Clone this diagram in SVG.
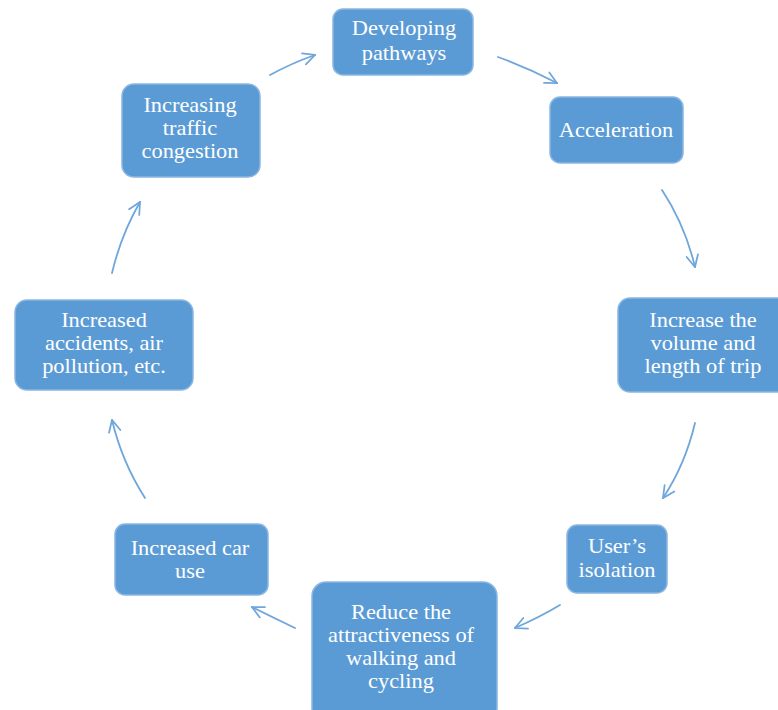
<svg xmlns="http://www.w3.org/2000/svg" width="778" height="710" viewBox="0 0 778 710">
<defs>
<style>
.box{fill:#5B9BD5;stroke:#8AB6E2;stroke-width:1.5}
.t{font-family:"Liberation Serif","DejaVu Serif",serif;font-size:20px;fill:#fff;text-anchor:middle}
.c{fill:none;stroke:#6FA6DB;stroke-width:1.8;stroke-linecap:round}
</style>
<marker id="ah" viewBox="0 0 12 12" refX="11" refY="6" markerWidth="14" markerHeight="14" markerUnits="userSpaceOnUse" orient="auto">
<path d="M1,1 L11,6 L1,11" fill="none" stroke="#6FA6DB" stroke-width="1.5" stroke-linecap="round"/>
</marker>
</defs>
<rect width="778" height="710" fill="#fff"/>
<g id="connectors">
<path class="c" d="M270,75 Q292,63 315,55" marker-end="url(#ah)"/>
<path class="c" d="M498,57 Q528,68 557,83" marker-end="url(#ah)"/>
<path class="c" d="M662,190 Q685,225 695,267" marker-end="url(#ah)"/>
<path class="c" d="M695,423 Q685,465 663,498" marker-end="url(#ah)"/>
<path class="c" d="M560,605 Q540,617 515,628" marker-end="url(#ah)"/>
<path class="c" d="M295,628 Q272,617 252,607" marker-end="url(#ah)"/>
<path class="c" d="M145,498 Q122,462 112,420" marker-end="url(#ah)"/>
<path class="c" d="M112,273 Q121,235 140,202" marker-end="url(#ah)"/>
</g>
<g id="n1"><rect class="box" x="333" y="9" width="140" height="66" rx="10"/>
<g transform="translate(404,0) scale(1.12,1)"><text class="t" x="0" y="35">Developing</text><text class="t" x="0" y="60">pathways</text></g></g>
<g id="n2"><rect class="box" x="550" y="97" width="133" height="66" rx="10"/>
<g transform="translate(616,0) scale(1.12,1)"><text class="t" x="0" y="137">Acceleration</text></g></g>
<g id="n3"><rect class="box" x="618" y="298" width="172" height="94" rx="12"/>
<g transform="translate(703,0) scale(1.12,1)"><text class="t" x="0" y="327">Increase the</text><text class="t" x="0" y="350">volume and</text><text class="t" x="0" y="373">length of trip</text></g></g>
<g id="n4"><rect class="box" x="567" y="525" width="100" height="68" rx="10"/>
<g transform="translate(617,0) scale(1.12,1)"><text class="t" x="0" y="553">User’s</text><text class="t" x="0" y="577">isolation</text></g></g>
<g id="n5"><rect class="box" x="312" y="582" width="185" height="140" rx="14"/>
<g transform="translate(401,0) scale(1.12,1)"><text class="t" x="0" y="619">Reduce the</text><text class="t" x="0" y="642">attractiveness of</text><text class="t" x="0" y="665">walking and</text><text class="t" x="0" y="688">cycling</text></g></g>
<g id="n6"><rect class="box" x="115" y="524" width="153" height="71" rx="10"/>
<g transform="translate(190,0) scale(1.12,1)"><text class="t" x="0" y="555">Increased car</text><text class="t" x="0" y="578">use</text></g></g>
<g id="n7"><rect class="box" x="15" y="300" width="178" height="90" rx="12"/>
<g transform="translate(104,0) scale(1.12,1)"><text class="t" x="0" y="327">Increased</text><text class="t" x="0" y="350">accidents, air</text><text class="t" x="0" y="373">pollution, etc.</text></g></g>
<g id="n8"><rect class="box" x="122" y="84" width="138" height="93" rx="12"/>
<g transform="translate(190,0) scale(1.12,1)"><text class="t" x="0" y="112">Increasing</text><text class="t" x="0" y="135">traffic</text><text class="t" x="0" y="158">congestion</text></g></g>
</svg>
